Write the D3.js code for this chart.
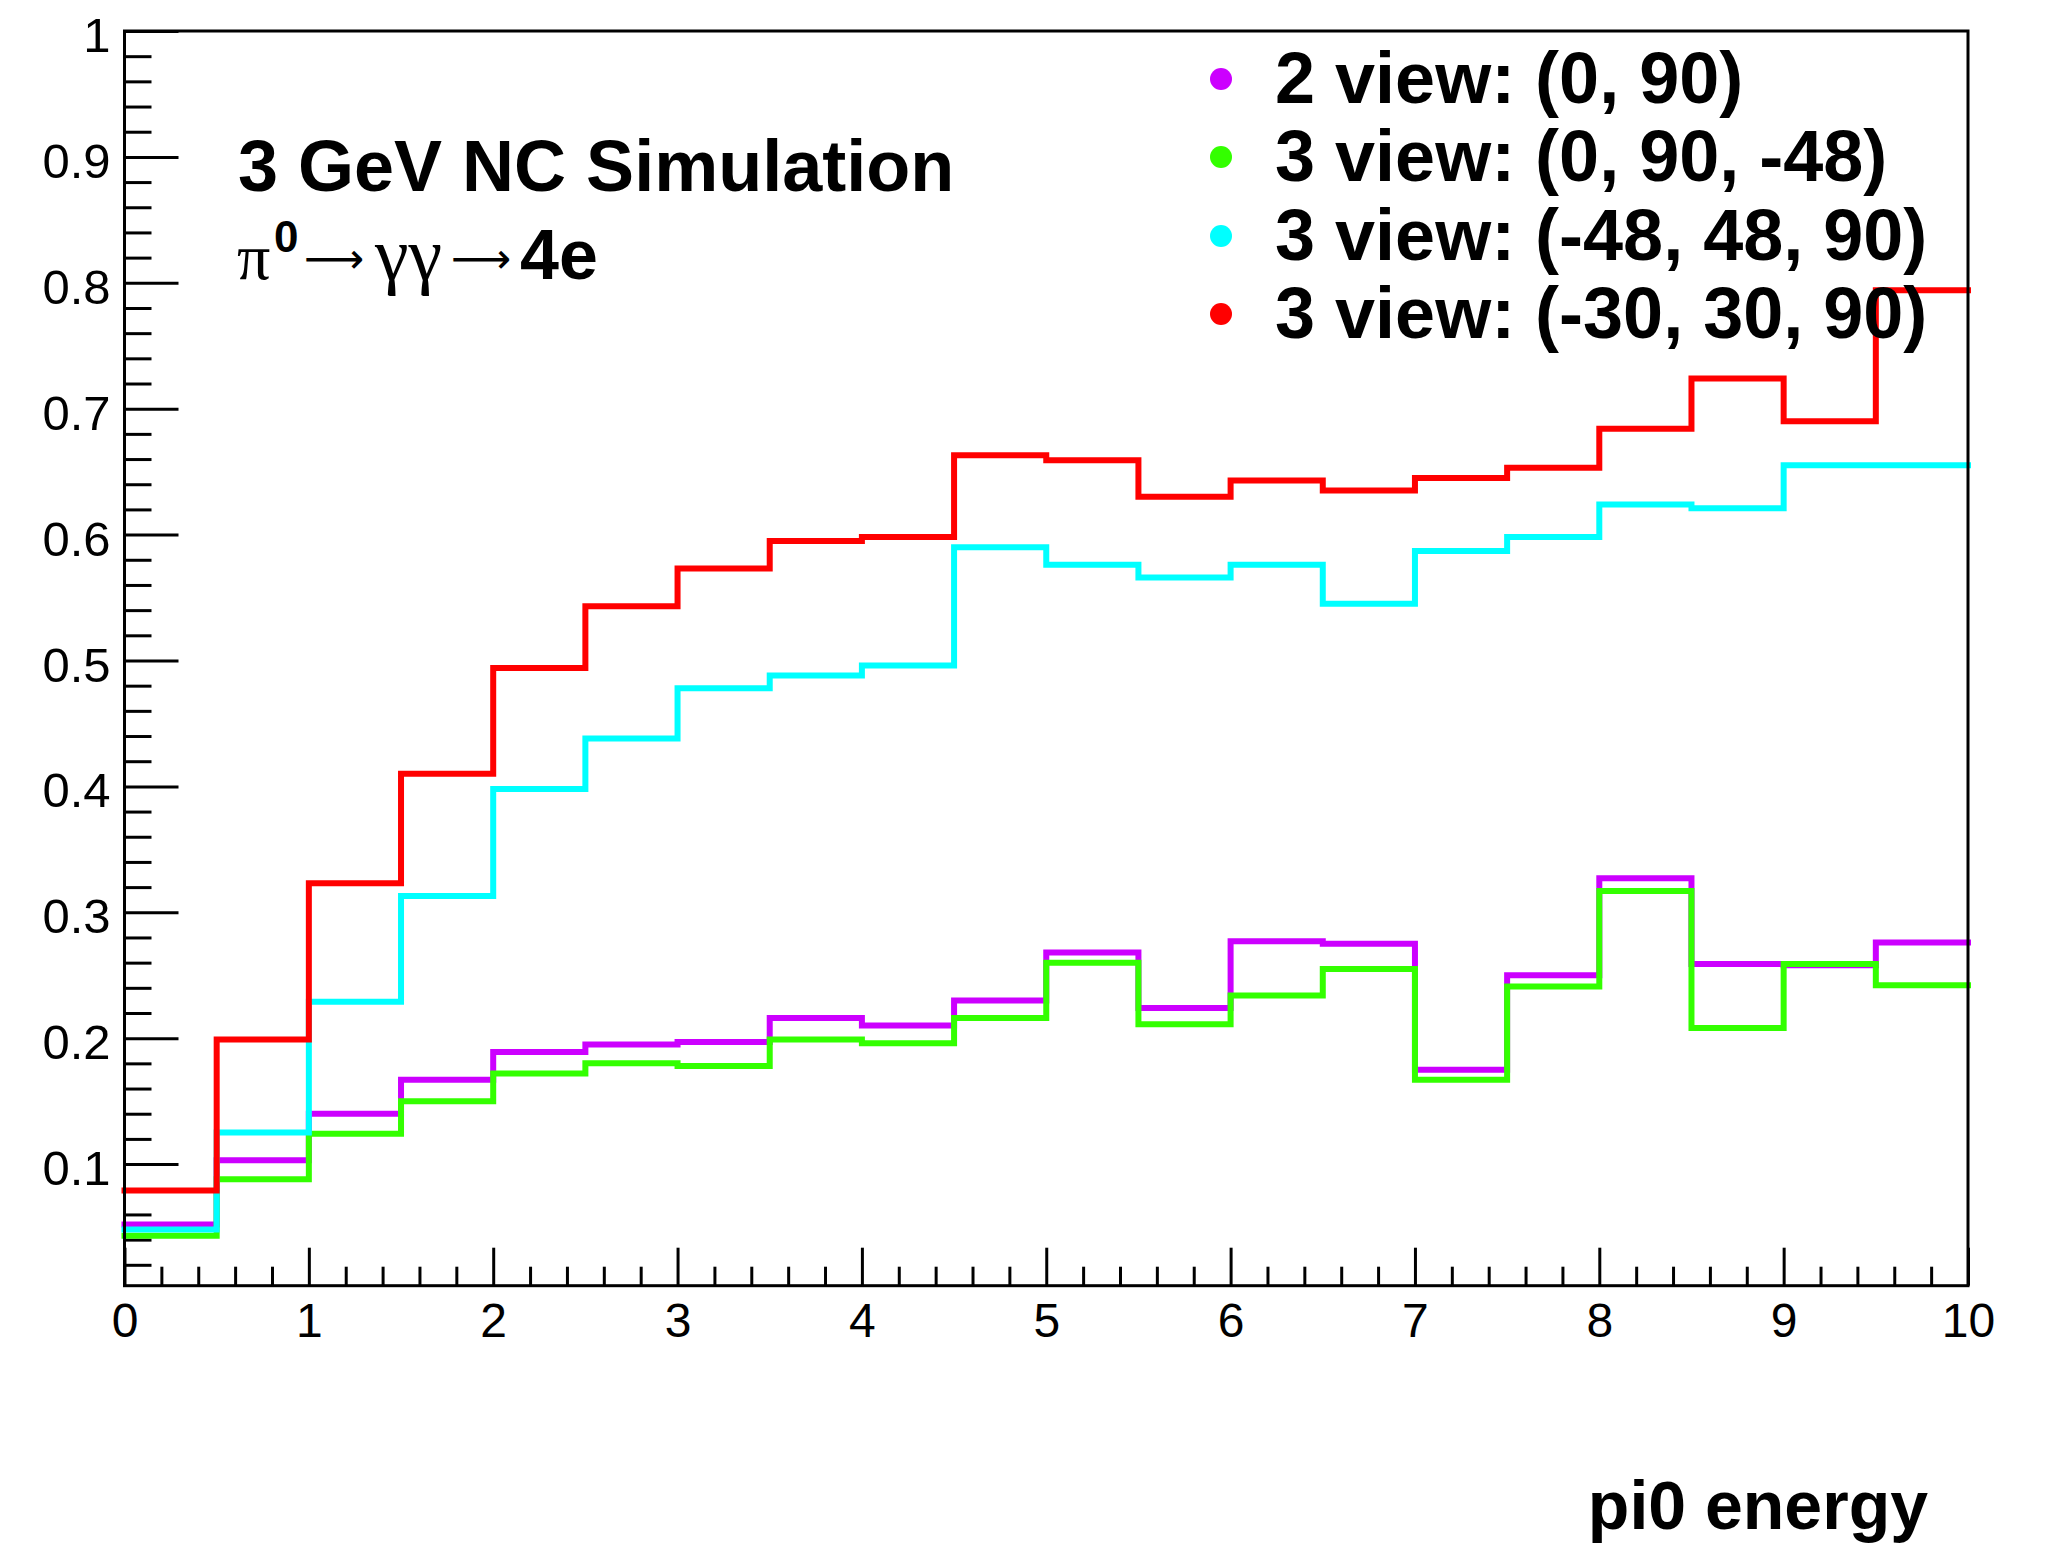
<!DOCTYPE html>
<html>
<head>
<meta charset="utf-8">
<script src="https://cdn.jsdelivr.net/npm/d3@7/dist/d3.min.js"></script>
<style>
  body { margin: 0; background: #fff; }
  svg { display: block; }
</style>
</head>
<body>
<svg id="chart" width="2054" height="1544"></svg>
<script>
// ---------------- data ----------------
const binLow = [0, 0.5, 1, 1.5, 2, 2.5, 3, 3.5, 4, 4.5, 5, 5.5, 6, 6.5, 7, 7.5, 8, 8.5, 9, 9.5];
const binHigh = 10;

const seriesLabels = [
  "2 view: (0, 90)",
  "3 view: (0, 90, -48)",
  "3 view: (-48, 48, 90)",
  "3 view: (-30, 30, 90)"
];
const seriesColors = ["#cc00ff", "#33ff00", "#00ffff", "#ff0000"];

const view2_0_90 = [0.052, 0.103, 0.140, 0.167, 0.189, 0.195, 0.197, 0.216, 0.210, 0.230,
                    0.268, 0.224, 0.277, 0.275, 0.175, 0.250, 0.327, 0.259, 0.258, 0.276];
const view3_0_90_m48 = [0.043, 0.088, 0.124, 0.150, 0.172, 0.180, 0.178, 0.199, 0.196, 0.216,
                        0.260, 0.211, 0.234, 0.255, 0.167, 0.241, 0.317, 0.208, 0.259, 0.242];
const view3_m48_48_90 = [0.048, 0.125, 0.229, 0.313, 0.398, 0.438, 0.478, 0.488, 0.496, 0.590,
                         0.576, 0.566, 0.576, 0.545, 0.587, 0.598, 0.624, 0.621, 0.655, 0.655];
const view3_m30_30_90 = [0.079, 0.199, 0.323, 0.410, 0.494, 0.543, 0.573, 0.595, 0.598, 0.663,
                         0.659, 0.630, 0.643, 0.635, 0.645, 0.653, 0.684, 0.724, 0.690, 0.794];

const xTicks = [0, 1, 2, 3, 4, 5, 6, 7, 8, 9, 10];
const xTickLabels = ["0", "1", "2", "3", "4", "5", "6", "7", "8", "9", "10"];
const yTicks = [0.1, 0.2, 0.3, 0.4, 0.5, 0.6, 0.7, 0.8, 0.9, 1.0];
const yTickLabels = ["0.1", "0.2", "0.3", "0.4", "0.5", "0.6", "0.7", "0.8", "0.9", "1"];

const xTitle = "pi0 energy";
const titleText = "3 GeV NC Simulation";

// ---------------- layout ----------------
const svg = d3.select("#chart");
svg.append("rect").attr("width", 2054).attr("height", 1544).attr("fill", "#fff");

const L = 124.5, R = 1968, T = 31, B = 1285.7;
const x = d3.scaleLinear().domain([0, 10]).range([L, R]);
const y = d3.scaleLinear().domain([0.0034, 1]).range([B, T]);

const SANS = "'Liberation Sans', Arial, Helvetica, sans-serif";
const SERIF = "'Liberation Serif', 'Times New Roman', serif";

// minor ticks
const xMinor = d3.range(0, 10.0001, 0.2).filter(v => Math.abs(v - Math.round(v)) > 1e-6);
const yMinor = d3.range(0.02, 0.9901, 0.02).filter(v => Math.abs(v * 10 - Math.round(v * 10)) > 1e-6);

// x axis
const gxMinor = svg.append("g").attr("transform", `translate(0,${B})`)
  .call(d3.axisBottom(x).tickValues(xMinor).tickFormat("").tickSize(-19).tickSizeOuter(0));
const gx = svg.append("g").attr("transform", `translate(0,${B})`)
  .call(d3.axisBottom(x).tickValues(xTicks).tickFormat((d, i) => xTickLabels[i]).tickSize(-38).tickSizeOuter(0).tickPadding(17));
[gxMinor, gx].forEach(g => {
  g.selectAll(".domain").remove();
  g.selectAll("line").attr("stroke", "#000").attr("stroke-width", 3);
});
gx.selectAll("text").attr("font-family", SANS).attr("font-size", 48).attr("fill", "#000").attr("dy", "0.71em");

// y axis
const gyMinor = svg.append("g").attr("transform", `translate(${L},0)`)
  .call(d3.axisLeft(y).tickValues(yMinor).tickFormat("").tickSize(-27).tickSizeOuter(0));
const gy = svg.append("g").attr("transform", `translate(${L},0)`)
  .call(d3.axisLeft(y).tickValues(yTicks).tickFormat((d, i) => yTickLabels[i]).tickSize(-54).tickSizeOuter(0).tickPadding(14));
[gyMinor, gy].forEach(g => {
  g.selectAll(".domain").remove();
  g.selectAll("line").attr("stroke", "#000").attr("stroke-width", 3);
});
gy.selectAll("text").attr("font-family", SANS).attr("font-size", 49).attr("fill", "#000").attr("dy", "0.42em");

// histograms (step lines)
const allSeries = [view2_0_90, view3_0_90_m48, view3_m48_48_90, view3_m30_30_90];
const stepLine = d3.line().x(d => x(d[0])).y(d => y(d[1])).curve(d3.curveStepAfter);
allSeries.forEach((vals, k) => {
  const pts = binLow.map((b, i) => [b, vals[i]]);
  pts.push([binHigh, vals[vals.length - 1]]);
  svg.append("path")
    .attr("d", stepLine(pts))
    .attr("fill", "none")
    .attr("stroke", seriesColors[k])
    .attr("stroke-width", 6)
    .attr("stroke-linejoin", "miter")
    .attr("stroke-linecap", "square");
});

// frame
svg.append("rect")
  .attr("x", L).attr("y", T).attr("width", R - L).attr("height", B - T)
  .attr("fill", "none").attr("stroke", "#000").attr("stroke-width", 3);

// title text
svg.append("text").attr("x", 238).attr("y", 191)
  .attr("font-family", SANS).attr("font-weight", "bold").attr("font-size", 72)
  .text(titleText);

// pi0 -> gamma gamma -> 4e  (one text element, several spans)
const decay = svg.append("text").attr("y", 279).attr("fill", "#000");
decay.append("tspan").attr("x", 237).attr("y", 279)
  .attr("font-family", SERIF).attr("font-size", 66).text("π");
decay.append("tspan").attr("x", 274).attr("y", 252)
  .attr("font-family", SANS).attr("font-weight", "bold").attr("font-size", 44).text("0");
decay.append("tspan").attr("x", 304).attr("y", 273)
  .attr("font-family", "'DejaVu Sans', sans-serif").attr("font-size", 42).text("⟶");
decay.append("tspan").attr("x", 375).attr("y", 280)
  .attr("font-family", SERIF).attr("font-size", 76).text("γγ");
decay.append("tspan").attr("x", 451).attr("y", 273)
  .attr("font-family", "'DejaVu Sans', sans-serif").attr("font-size", 42).text("⟶");
decay.append("tspan").attr("x", 520).attr("y", 279)
  .attr("font-family", SANS).attr("font-weight", "bold").attr("font-size", 70).text("4e");

// legend
const legendY = [79, 157, 236, 314];
const lg = svg.append("g");
seriesLabels.forEach((lab, k) => {
  lg.append("circle").attr("cx", 1221).attr("cy", legendY[k]).attr("r", 11).attr("fill", seriesColors[k]);
  lg.append("text").attr("x", 1275).attr("y", legendY[k] + 24)
    .attr("font-family", SANS).attr("font-weight", "bold").attr("font-size", 72)
    .attr("fill", "#000").text(lab);
});

// x axis title
svg.append("text").attr("x", 1928).attr("y", 1529).attr("text-anchor", "end")
  .attr("font-family", SANS).attr("font-weight", "bold").attr("font-size", 68)
  .text(xTitle);
</script>
</body>
</html>
